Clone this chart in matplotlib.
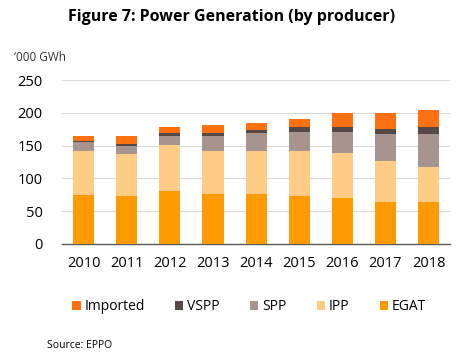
import numpy as np
import matplotlib
matplotlib.use("Agg")
import matplotlib.pyplot as plt

plt.rcParams["font.family"] = ["Open Sans", "DejaVu Sans"]

# Data ('000 GWh)
years = ["2010", "2011", "2012", "2013", "2014", "2015", "2016", "2017", "2018"]
egat = [74, 73, 81, 76, 76, 73, 70, 64, 64]
ipp = [67, 64, 70, 65, 66, 69, 68, 63, 54]
spp = [15, 13, 14, 23, 27, 29, 33, 40, 49]
vspp = [1, 3, 4, 5, 5, 7, 8, 9, 11]
imported = [7, 11, 10, 12, 11, 13, 20, 24, 26]

series = [
    ("EGAT", egat, "#FF9900"),
    ("IPP", ipp, "#FFCC85"),
    ("SPP", spp, "#A8948F"),
    ("VSPP", vspp, "#574848"),
    ("Imported", imported, "#FF7010"),
]

fig = plt.figure(figsize=(4.64, 3.62), dpi=100)
ax = fig.add_axes([0.134, 0.326, 0.836, 0.453])

x = np.arange(len(years))
bottom = np.zeros(len(years))
handles = {}
for name, vals, color in series:
    b = ax.bar(x, vals, width=0.49, bottom=bottom, color=color, label=name, zorder=3)
    handles[name] = b
    bottom += np.array(vals)

ax.set_xlim(-0.5, len(years) - 0.5)
ax.set_ylim(0, 250)
ax.set_yticks(range(0, 251, 50))
ax.set_xticks(x)
ax.set_xticklabels(years)
ax.yaxis.grid(True, color="#D9D9D9", linewidth=0.8, zorder=0)
ax.tick_params(axis="both", length=0, labelsize=10.5, colors="#000000")
ax.tick_params(axis="y", pad=14)
ax.tick_params(axis="x", pad=9)
for s in ["top", "right", "left"]:
    ax.spines[s].set_visible(False)
ax.spines["bottom"].set_color("#595959")
ax.spines["bottom"].set_linewidth(1.0)

fig.text(0.5, 0.952, "Figure 7: Power Generation (by producer)", ha="center", va="center",
         fontsize=11.5, fontweight="bold")
fig.text(0.03, 0.842, "\u2018000 GWh", ha="left", va="center", fontsize=8.5, color="#333333")

order = ["Imported", "VSPP", "SPP", "IPP", "EGAT"]
fig.legend([handles[n] for n in order], order, loc="center", bbox_to_anchor=(0.537, 0.152),
           ncol=5, frameon=False, fontsize=10, handlelength=0.6, handleheight=0.6,
           handletextpad=0.25, columnspacing=2.2)

fig.text(0.101, 0.045, "Source: EPPO", ha="left", va="center", fontsize=7.5)

fig.savefig("out.png", dpi=100)
